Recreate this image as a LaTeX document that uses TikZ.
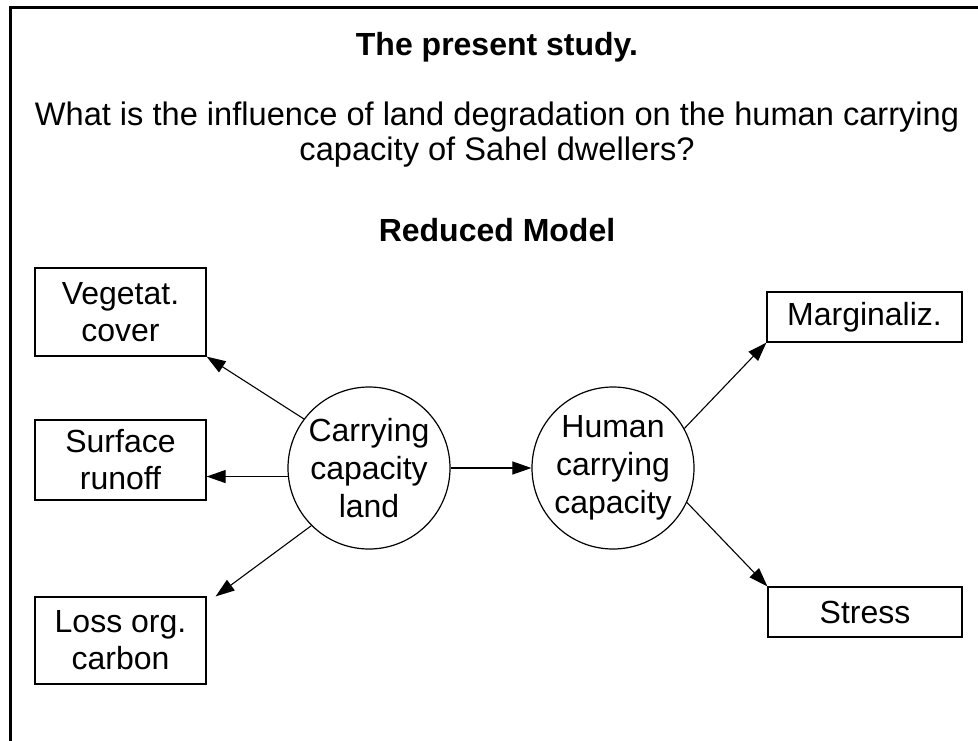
\documentclass[tikz,border=0pt]{standalone}
\usepackage{fontspec}
\setmainfont{Liberation Sans}
\usetikzlibrary{arrows.meta}
\begin{document}
\begin{tikzpicture}[x=1pt,y=-1pt,
  boxnode/.style={draw,line width=1.2pt,inner sep=0pt,align=center,font=\fontsize{32}{37}\selectfont},
  circnode/.style={draw,circle,line width=1.2pt,minimum size=162pt,inner sep=0pt,align=center,font=\fontsize{32}{38}\selectfont},
  arr/.style={line width=1.1pt,-{Triangle[length=19pt,width=13pt]}},
  txt/.style={align=center,inner sep=0pt}]
\useasboundingbox (0,0) rectangle (978,740);
\draw[line width=3pt] (10,7) rectangle (1000,760);
\node[txt,font=\fontsize{32}{35}\bfseries\selectfont] (title) at (497,47) {The present study.};
\node[txt,font=\fontsize{32.6}{35}\selectfont] (question) at (497,135) {What is the influence of land degradation on the human carrying\\capacity of Sahel dwellers?};
\node[txt,font=\fontsize{32}{35}\bfseries\selectfont] (model) at (497,230) {Reduced Model};
\node[boxnode,minimum width=171pt,minimum height=88pt] (veg) at (120.5,312) {Vegetat.\\cover};
\node[boxnode,minimum width=171pt,minimum height=80pt] (runoff) at (120.5,460) {Surface\\runoff};
\node[boxnode,minimum width=171pt,minimum height=87pt] (loss) at (120.5,640.5) {Loss org.\\carbon};
\node[boxnode,minimum width=195pt,minimum height=50pt] (marg) at (864.5,317) {Marginaliz.};
\node[boxnode,minimum width=194pt,minimum height=50pt] (stress) at (865,612) {Stress};
\node[circnode] (c1) at (369,468) {Carrying\\capacity\\land};
\node[circnode] (c2) at (613,468) {Human\\carrying\\capacity};
\draw[arr] (c1.143) -- (veg.south east);
\draw[arr] (c1.186) -- (runoff.east |- c1.186);
\draw[arr] (c1.225) -- ([xshift=9pt]loss.north east);
\draw[arr] (c1) -- (c2);
\draw[arr] (c2.29) -- (marg.south west);
\draw[arr] (c2.-25) -- (stress.north west);
\end{tikzpicture}
\end{document}
